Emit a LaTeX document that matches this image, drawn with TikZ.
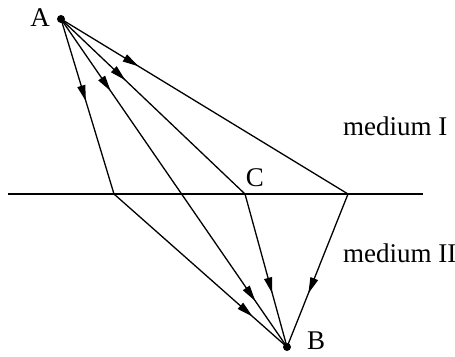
\documentclass[tikz,border=0pt]{standalone}
\usepackage{fontspec}
\setmainfont{Liberation Serif}
\usetikzlibrary{arrows.meta,decorations.markings}
\tikzset{
  ray/.style={line width=1.3pt},
  midarr/.style={postaction={decorate}, decoration={markings,
     mark=at position #1 with {\arrow{Triangle[length=16pt,width=8pt]}}}},
  twoarr/.style 2 args={postaction={decorate}, decoration={markings,
     mark=at position #1 with {\arrow{Triangle[length=16pt,width=8pt]}},
     mark=at position #2 with {\arrow{Triangle[length=16pt,width=8pt]}}}},
  lbl/.style={font=\fontsize{27}{30}\selectfont, inner sep=0pt},
  pt/.style={circle, fill=black, inner sep=0pt, minimum size=8pt}
}
\begin{document}
\begin{tikzpicture}[x=1pt,y=-1pt]
\useasboundingbox (0,0) rectangle (455,356);
% points
\node[pt] (A) at (61,19) {};
\node[pt] (B) at (287,347) {};
\coordinate (P1) at (114,194);
\coordinate (C) at (245,194);
\coordinate (P4) at (348,194);
\coordinate (L) at (8,194);
\coordinate (R) at (423,194);
% interface
\draw[line width=1.6pt] (L) -- (R);
% rays
\draw[ray, midarr=0.47] (A.center) -- (P1);
\draw[ray, midarr=0.8] (P1) -- (B.center);
\draw[ray, twoarr={0.22}{0.86}] (A.center) -- (B.center);
\draw[ray, midarr=0.35] (A.center) -- (C);
\draw[ray, midarr=0.65] (C) -- (B.center);
\draw[ray, midarr=0.27] (A.center) -- (P4);
\draw[ray, midarr=0.65] (P4) -- (B.center);
% labels
\node[lbl, anchor=base] (lA) at (40,27) {A};
\node[lbl, anchor=base] (lB) at (316,349) {B};
\node[lbl, anchor=base] (lC) at (255,186) {C};
\node[lbl, anchor=base west] (m1) at (343,135) {medium I};
\node[lbl, anchor=base west] (m2) at (343,262) {medium II};
\end{tikzpicture}
\end{document}
